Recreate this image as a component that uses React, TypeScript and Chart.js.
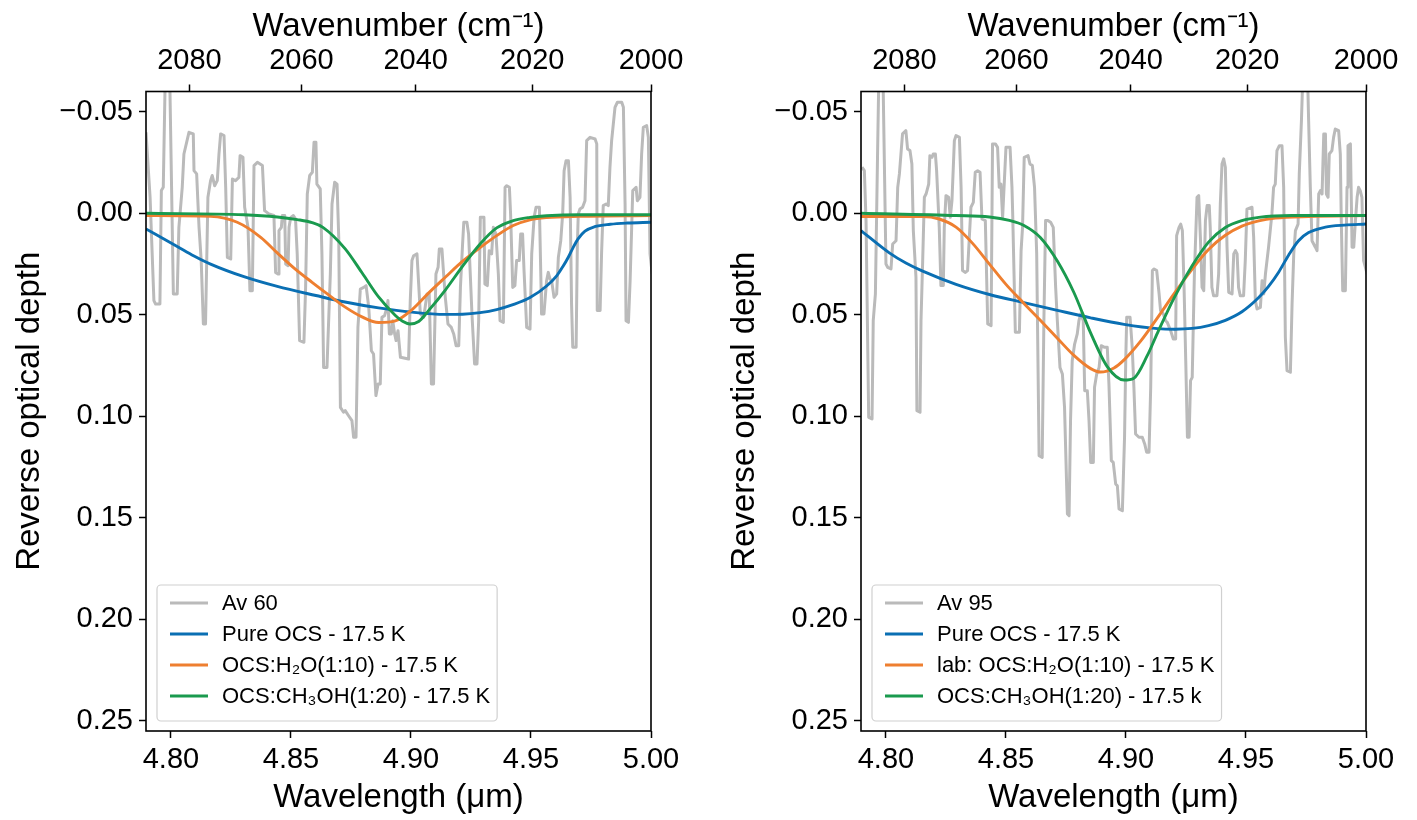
import React, { useEffect, useRef } from 'react';
import { Chart, registerables } from 'chart.js';

Chart.register(...registerables);

const FONT = "'Liberation Sans', Arial, Helvetica, sans-serif";

// ---------- axes ----------
const xMin = 4.7896;
const xMax = 5.0;
const yMin = -0.06;
const yMax = 0.255;
const wavelengthTicks = [4.8, 4.85, 4.9, 4.95, 5.0];
const wavenumberTicks = [2080, 2060, 2040, 2020, 2000];
const depthTicks = [-0.05, 0.0, 0.05, 0.1, 0.15, 0.2, 0.25];

// ---------- panel 1 (Av 60) ----------
const av60: number[][] = [
  [4.7896, -0.0399], [4.7913, -0.0079], [4.7929, 0.043], [4.7936, 0.0447], [4.7954, 0.0447], [4.796, -0.0112],
  [4.7968, -0.0128], [4.7978, -0.08], [4.7993, -0.08], [4.801, 0.0397], [4.8026, 0.0397], [4.8033, 0.0069],
  [4.8047, -0.0128], [4.8054, -0.0292], [4.8075, -0.0399], [4.8093, -0.0391], [4.8096, -0.021], [4.8107, -0.0194],
  [4.8117, 0.0069], [4.8126, 0.0233], [4.8135, 0.0545], [4.8144, 0.0545], [4.8154, -0.0079], [4.8165, -0.0161],
  [4.8172, -0.0186], [4.8182, -0.0136], [4.8193, -0.0161], [4.82, -0.0292], [4.8207, -0.0391], [4.8221, -0.0383],
  [4.8228, -0.0128], [4.8235, 0.0217], [4.8249, 0.0225], [4.8256, -0.0169], [4.8269, -0.0161], [4.8283, -0.0177],
  [4.8288, -0.0284], [4.83, -0.0276], [4.8307, -0.003], [4.8321, 0.0069], [4.8329, 0.0381], [4.8339, 0.0381],
  [4.8346, -0.0235], [4.836, -0.0251], [4.8381, -0.0235], [4.839, -0.0013], [4.8408, 0.0003], [4.8429, 0.0011],
  [4.8436, 0.0291], [4.8446, 0.0299], [4.845, 0.0085], [4.846, 0.0069], [4.8464, 0.0011], [4.8474, 0.0011],
  [4.8478, 0.025], [4.8488, 0.0258], [4.8492, 0.0069], [4.8499, 0.002], [4.851, 0.0011], [4.8519, 0.0028],
  [4.8526, 0.02], [4.8536, 0.0627], [4.8554, 0.0635], [4.8561, 0.0365], [4.8568, -0.0095], [4.8578, -0.0186],
  [4.8589, -0.0202], [4.8596, -0.035], [4.8604, -0.035], [4.8608, -0.0144], [4.8622, -0.012], [4.8629, 0.02],
  [4.8636, 0.0759], [4.865, 0.0759], [4.8664, 0.0299], [4.8671, -0.0046], [4.8682, -0.0153], [4.8692, -0.0144],
  [4.8699, 0.0118], [4.8706, 0.0956], [4.8719, 0.098], [4.8726, 0.0972], [4.874, 0.0997], [4.8754, 0.1021],
  [4.8761, 0.1103], [4.8771, 0.1103], [4.8779, 0.0562], [4.8789, 0.0373], [4.8803, 0.0365], [4.8813, 0.0356],
  [4.8824, 0.0463], [4.8835, 0.0677], [4.8844, 0.0693], [4.8854, 0.0898], [4.8863, 0.0841], [4.8872, 0.0841],
  [4.8879, 0.0512], [4.889, 0.0504], [4.89, 0.0463], [4.8904, 0.043], [4.891, 0.0594], [4.8918, 0.0594],
  [4.8924, 0.0529], [4.8932, 0.0594], [4.8938, 0.0627], [4.8946, 0.0578], [4.8951, 0.0644], [4.8956, 0.0709],
  [4.899, 0.0718], [4.8997, 0.043], [4.9004, 0.0233], [4.9011, 0.0209], [4.9025, 0.02], [4.9032, 0.0348],
  [4.9039, 0.0496], [4.9053, 0.0512], [4.9067, 0.0397], [4.9076, 0.0397], [4.9085, 0.0841], [4.9094, 0.0841],
  [4.9104, 0.0299], [4.9113, 0.0266], [4.9118, 0.0176], [4.9129, 0.0176], [4.9136, 0.0299], [4.9143, 0.0414],
  [4.9154, 0.0545], [4.9168, 0.0562], [4.9178, 0.0594], [4.9188, 0.0652], [4.9199, 0.0652], [4.9206, 0.0365],
  [4.9215, 0.0151], [4.922, 0.0044], [4.9233, 0.0044], [4.924, 0.0102], [4.9254, 0.0496], [4.9265, 0.0742],
  [4.9275, 0.0742], [4.9282, 0.0529], [4.9289, 0.002], [4.9304, 0.002], [4.9308, 0.0348], [4.9318, 0.0356],
  [4.9326, 0.0184], [4.9336, 0.02], [4.9343, 0.0069], [4.9354, 0.0102], [4.9364, 0.0299], [4.9371, 0.0529],
  [4.9385, 0.0537], [4.9392, -0.0128], [4.9399, -0.0136], [4.941, -0.0128], [4.9415, 0.0003], [4.9424, 0.0365],
  [4.9433, 0.0356], [4.944, 0.0233], [4.9451, 0.0233], [4.9457, 0.0102], [4.9465, 0.0102], [4.9471, 0.0282],
  [4.9482, 0.0562], [4.9496, 0.057], [4.9503, 0.02], [4.9513, 0.002], [4.9521, -0.003], [4.9535, -0.003],
  [4.9542, 0.0365], [4.9544, 0.0496], [4.9554, 0.0496], [4.9565, 0.0332], [4.9572, 0.0291], [4.9579, 0.0323],
  [4.9586, 0.0332], [4.9596, 0.0414], [4.9607, 0.0397], [4.9614, 0.0217], [4.9624, 0.0135], [4.9632, 0.0003],
  [4.9638, -0.021], [4.9646, -0.0259], [4.9656, -0.0259], [4.9663, -0.0079], [4.9669, 0.0447], [4.9674, 0.066],
  [4.9688, 0.066], [4.9693, 0.0167], [4.9697, 0.0003], [4.9704, -0.0021], [4.9715, -0.003], [4.9725, -0.0062],
  [4.9732, -0.0358], [4.9746, -0.0374], [4.9767, -0.0366], [4.9774, -0.0342], [4.9776, 0.0479], [4.9788, 0.0479],
  [4.9794, 0.02], [4.9801, -0.0038], [4.9813, -0.0046], [4.9822, -0.0038], [4.9829, -0.0227], [4.9836, -0.0358],
  [4.985, -0.0522], [4.986, -0.0547], [4.9878, -0.0547], [4.9885, -0.0522], [4.9892, -0.0046], [4.9896, 0.0529],
  [4.9906, 0.0537], [4.9913, 0.0332], [4.9924, -0.0112], [4.9938, -0.0128], [4.9943, -0.0062], [4.9954, -0.0079],
  [4.9961, -0.0292], [4.9968, -0.0424], [4.9982, -0.0432], [4.9989, -0.0374], [4.9996, 0.02], [5.0005, 0.03],
];

const pureOcs1: number[][] = [
  [4.7896, 0.0077], [4.8026, 0.0163], [4.8096, 0.021], [4.8165, 0.025], [4.8304, 0.0312], [4.8443, 0.036],
  [4.8604, 0.0405], [4.8725, 0.0437], [4.8865, 0.0466], [4.9004, 0.0487], [4.9142, 0.0498], [4.9215, 0.0497],
  [4.9288, 0.0489], [4.9357, 0.0474], [4.9425, 0.045], [4.9496, 0.0415], [4.9565, 0.0358], [4.9607, 0.0308],
  [4.9633, 0.0262], [4.9656, 0.0215], [4.9675, 0.017], [4.9697, 0.0125], [4.9725, 0.0088], [4.9765, 0.0066],
  [4.983, 0.0054], [4.99, 0.0048], [5.0, 0.0044],
];

const h2oMix1: number[][] = [
  [4.7896, 0.0011], [4.8165, 0.0015], [4.8276, 0.0044], [4.8374, 0.0118], [4.8443, 0.0195], [4.8513, 0.027],
  [4.8588, 0.034], [4.8657, 0.0402], [4.8726, 0.0462], [4.8796, 0.051], [4.8865, 0.0538], [4.8935, 0.053],
  [4.9004, 0.0475], [4.9074, 0.0392], [4.9143, 0.0315], [4.9213, 0.0238], [4.9296, 0.0162], [4.9357, 0.011],
  [4.9426, 0.006], [4.9496, 0.0032], [4.9565, 0.0021], [4.9704, 0.0015], [5.0, 0.0011],
];

const ch3ohMix1: number[][] = [
  [4.7896, 0.0], [4.8304, 0.0007], [4.8443, 0.0018], [4.8526, 0.0031], [4.8588, 0.0046], [4.8633, 0.0069],
  [4.8726, 0.0175], [4.8796, 0.0293], [4.8865, 0.0412], [4.8935, 0.0503], [4.8965, 0.0532], [4.8995, 0.0545],
  [4.9032, 0.0533], [4.9074, 0.0478], [4.9143, 0.0378], [4.9213, 0.0264], [4.9288, 0.0151], [4.9357, 0.0072],
  [4.9426, 0.0036], [4.9496, 0.002], [4.9565, 0.0012], [4.9704, 0.0007], [5.0, 0.0007],
];

// ---------- panel 2 (Av 95) ----------
const av95: number[][] = [
  [4.79, -0.0227], [4.791, -0.021], [4.7917, 0.0036], [4.7928, 0.1005], [4.7942, 0.1013], [4.7947, 0.0529],
  [4.7956, 0.0397], [4.7965, -0.0292], [4.7972, -0.08], [4.7986, -0.08], [4.8, 0.025], [4.8007, 0.0266],
  [4.8021, 0.0274], [4.8028, 0.0151], [4.8042, 0.0135], [4.8049, -0.0128], [4.8056, -0.0194], [4.8069, -0.0391],
  [4.8083, -0.0407], [4.809, -0.0317], [4.81, -0.0309], [4.8108, -0.0243], [4.8114, 0.0085], [4.8125, 0.0315],
  [4.8129, 0.0972], [4.8142, 0.098], [4.8146, 0.0529], [4.8153, 0.0233], [4.816, -0.0079], [4.8167, -0.0095],
  [4.8178, -0.0144], [4.8183, -0.0284], [4.8192, -0.0276], [4.8197, -0.0292], [4.8206, -0.0292], [4.8211, -0.021],
  [4.8222, 0.0069], [4.8229, 0.0356], [4.8239, 0.0356], [4.8243, 0.0069], [4.825, -0.0087], [4.8261, -0.0079],
  [4.8268, 0.002], [4.8275, -0.0062], [4.8285, -0.0358], [4.8292, -0.0383], [4.8306, -0.0374], [4.8313, -0.0128],
  [4.8319, 0.0282], [4.8331, 0.0291], [4.834, 0.0282], [4.8354, -0.003], [4.8364, -0.0054], [4.8372, -0.0202],
  [4.8382, -0.021], [4.8392, -0.0202], [4.84, 0.0028], [4.8414, 0.0036], [4.8424, 0.0545], [4.8438, 0.0553],
  [4.8444, -0.0342], [4.8456, -0.0342], [4.8465, -0.0325], [4.8472, -0.0128], [4.8479, -0.0144], [4.8486, 0.002],
  [4.85, -0.0325], [4.8517, -0.0325], [4.8525, -0.0128], [4.8528, 0.0003], [4.8539, 0.0586], [4.8556, 0.0586],
  [4.8563, 0.0184], [4.8569, 0.0069], [4.8576, -0.0276], [4.8592, -0.0284], [4.86, -0.0243], [4.861, -0.0235],
  [4.8619, -0.0128], [4.8628, 0.02], [4.8638, 0.1194], [4.8651, 0.1202], [4.8658, 0.0529], [4.8665, 0.0036],
  [4.8675, 0.0036], [4.8686, 0.0044], [4.8697, 0.0069], [4.8707, 0.0365], [4.8714, 0.0529], [4.8725, 0.0759],
  [4.8735, 0.0791], [4.8744, 0.0956], [4.8756, 0.1481], [4.8763, 0.1489], [4.8769, 0.1021], [4.8776, 0.0726],
  [4.8786, 0.0644], [4.8797, 0.0594], [4.8804, 0.0529], [4.8811, 0.0496], [4.8822, 0.0529], [4.8828, 0.0874],
  [4.8839, 0.0874], [4.8846, 0.1021], [4.8853, 0.1227], [4.8864, 0.1227], [4.8869, 0.0857], [4.8878, 0.0791],
  [4.8888, 0.0759], [4.8897, 0.0652], [4.8911, 0.066], [4.8922, 0.066], [4.8929, 0.0841], [4.8939, 0.1218],
  [4.8947, 0.1227], [4.8957, 0.1333], [4.8964, 0.1342], [4.8971, 0.1456], [4.8985, 0.1465], [4.8994, 0.1103],
  [4.8999, 0.0726], [4.9003, 0.0512], [4.9017, 0.0512], [4.9026, 0.066], [4.9033, 0.0857], [4.904, 0.1087],
  [4.9054, 0.1103], [4.9068, 0.1103], [4.9078, 0.1136], [4.9086, 0.1177], [4.9096, 0.1177], [4.9103, 0.0857],
  [4.911, 0.0282], [4.9117, 0.0274], [4.9128, 0.0282], [4.9138, 0.0397], [4.9144, 0.0479], [4.9156, 0.0496],
  [4.9165, 0.0529], [4.9172, 0.0537], [4.9186, 0.0578], [4.9197, 0.0619], [4.9207, 0.0619], [4.9211, 0.011],
  [4.9221, 0.0069], [4.9228, 0.0053], [4.9235, 0.0085], [4.9242, 0.0365], [4.9249, 0.0726], [4.9256, 0.1103],
  [4.9263, 0.1103], [4.9269, 0.0824], [4.9276, 0.0808], [4.9285, 0.03], [4.9296, -0.0079], [4.9303, -0.0087],
  [4.931, 0.0118], [4.9317, 0.0365], [4.9324, 0.0381], [4.9331, 0.0036], [4.9338, -0.0038], [4.9347, -0.0038],
  [4.9351, 0.0069], [4.9358, 0.0365], [4.9365, 0.0406], [4.9379, 0.0406], [4.9386, 0.0299], [4.9393, -0.0046],
  [4.94, -0.0243], [4.9407, -0.0268], [4.9414, -0.0227], [4.9421, 0.0167], [4.9428, 0.0389], [4.9442, 0.0397],
  [4.9449, 0.02], [4.9456, 0.0184], [4.9463, 0.02], [4.9469, 0.0365], [4.9476, 0.0406], [4.949, 0.0406],
  [4.9497, 0.0233], [4.9504, -0.0021], [4.9525, -0.003], [4.9532, 0.0118], [4.9539, 0.043], [4.9546, 0.0471],
  [4.956, 0.0463], [4.9567, 0.0332], [4.9574, 0.0397], [4.9581, 0.0299], [4.9594, 0.0167], [4.9608, 0.0003],
  [4.9615, -0.0128], [4.9622, -0.0144], [4.9629, -0.0309], [4.9639, -0.0333], [4.965, -0.0333], [4.9657, -0.0128],
  [4.9664, 0.0611], [4.9671, 0.0775], [4.9685, 0.0783], [4.9692, 0.0447], [4.9699, 0.02], [4.9706, 0.0085],
  [4.9717, 0.0053], [4.9722, -0.0194], [4.9731, -0.0456], [4.974, -0.08], [4.9754, -0.08], [4.9761, -0.0456],
  [4.9768, -0.0128], [4.9775, 0.0135], [4.9789, 0.0167], [4.9796, 0.0184], [4.9803, -0.0095], [4.981, -0.0112],
  [4.9817, -0.0095], [4.9824, -0.0391], [4.9831, -0.0391], [4.9835, -0.0095], [4.9842, -0.0079], [4.9847, -0.0292],
  [4.9858, -0.0309], [4.9865, -0.0374], [4.9872, -0.0415], [4.9886, -0.0407], [4.9893, -0.0292], [4.9897, 0.0036],
  [4.9903, 0.0381], [4.9914, 0.0381], [4.9921, -0.0128], [4.9925, -0.0333], [4.9935, -0.0342], [4.9942, 0.0167],
  [4.9949, 0.0167], [4.9956, 0.0036], [4.9963, -0.0079], [4.9969, -0.0128], [4.9976, -0.0112], [4.9983, -0.0079],
  [4.999, 0.0233], [5.0005, 0.03],
];

const pureOcs2: number[][] = [
  [4.7896, 0.0085], [4.8014, 0.0195], [4.8083, 0.0245], [4.8153, 0.0285], [4.8292, 0.035], [4.8431, 0.04],
  [4.8575, 0.044], [4.8714, 0.0478], [4.8853, 0.0515], [4.8992, 0.0547], [4.9131, 0.0568], [4.9203, 0.0571],
  [4.9275, 0.0567], [4.9344, 0.0553], [4.9414, 0.0527], [4.9483, 0.0485], [4.9553, 0.0415], [4.9594, 0.036],
  [4.9636, 0.029], [4.9678, 0.0205], [4.9719, 0.0135], [4.9761, 0.0095], [4.9831, 0.0068], [4.991, 0.0058],
  [5.0, 0.0053],
];

const h2oMix2: number[][] = [
  [4.7896, 0.0016], [4.8153, 0.0016], [4.8222, 0.0028], [4.8292, 0.0068], [4.8361, 0.0148], [4.8431, 0.025],
  [4.85, 0.035], [4.8575, 0.0444], [4.8644, 0.0528], [4.8714, 0.0615], [4.8783, 0.07], [4.8853, 0.0765],
  [4.8894, 0.0782], [4.895, 0.0762], [4.8992, 0.0722], [4.9061, 0.063], [4.9131, 0.0515], [4.92, 0.0397],
  [4.9275, 0.0276], [4.9344, 0.0178], [4.9414, 0.0108], [4.9483, 0.0063], [4.9553, 0.0037], [4.9622, 0.0024],
  [4.9761, 0.0016], [5.0, 0.0011],
];

const ch3ohMix2: number[][] = [
  [4.7896, 0.0], [4.8292, 0.0011], [4.8431, 0.0018], [4.8514, 0.0035], [4.8575, 0.006], [4.8644, 0.012],
  [4.8714, 0.0235], [4.8783, 0.039], [4.8853, 0.059], [4.8922, 0.0755], [4.8992, 0.0821], [4.9033, 0.0812],
  [4.9089, 0.07], [4.9131, 0.059], [4.92, 0.0418], [4.9275, 0.026], [4.9344, 0.0142], [4.9414, 0.007],
  [4.9483, 0.0036], [4.9553, 0.002], [4.9692, 0.0011], [5.0, 0.0011],
];

const panel1Labels = ['Av 60', 'Pure OCS - 17.5 K', 'OCS:H\u2082O(1:10) - 17.5 K', 'OCS:CH\u2083OH(1:20) - 17.5 K'];
const panel2Labels = ['Av 95', 'Pure OCS - 17.5 K', 'lab: OCS:H\u2082O(1:10) - 17.5 K', 'OCS:CH\u2083OH(1:20) - 17.5 k'];

const COLORS = ['#bababa', '#0a6fb3', '#ee7f30', '#1a9a4e'];

const framePlugin = {
  id: 'frame',
  afterDatasetsDraw(chart: any) {
    const { ctx, chartArea: a } = chart;
    ctx.save();
    ctx.strokeStyle = '#000';
    ctx.lineWidth = 1.6;
    ctx.strokeRect(a.left, a.top, a.right - a.left, a.bottom - a.top);
    ctx.restore();
  },
};

const boxLegendPlugin = {
  id: 'boxLegend',
  afterDraw(chart: any) {
    const { ctx, chartArea: a } = chart;
    const items = chart.data.datasets;
    ctx.save();
    ctx.font = `22px ${FONT}`;
    const textW = Math.max(...items.map((d: any) => ctx.measureText(d.label).width));
    const rowH = 31;
    const left = a.left + 11;
    const bottom = a.bottom - 10;
    const h = 136;
    const top = bottom - h;
    const w = 65 + textW + 7;
    ctx.beginPath();
    (ctx as any).roundRect(left, top, w, h, 4);
    ctx.fillStyle = 'rgba(255,255,255,0.85)';
    ctx.fill();
    ctx.strokeStyle = '#d0d0d0';
    ctx.lineWidth = 1.2;
    ctx.stroke();
    items.forEach((d: any, i: number) => {
      const y = top + 18 + i * rowH;
      ctx.beginPath();
      ctx.moveTo(left + 13, y);
      ctx.lineTo(left + 51, y);
      ctx.strokeStyle = d.borderColor;
      ctx.lineWidth = 2.8;
      ctx.stroke();
      ctx.fillStyle = '#000';
      ctx.textBaseline = 'middle';
      ctx.textAlign = 'left';
      ctx.fillText(d.label, left + 65, y + 1);
    });
    ctx.restore();
  },
};

function fmtDepth(v: number) {
  const s = Math.abs(v).toFixed(2);
  return v < -1e-9 ? '\u2212' + s : s;
}

function buildConfig(series: number[][][], labels: string[], rightPad: number): any {
  const tickFont = { family: FONT, size: 29 };
  const titleFont = { family: FONT, size: 33 };
  const gridOpts = { display: true, drawOnChartArea: false, drawTicks: true, tickLength: 7, tickWidth: 1.5, color: '#000' };
  return {
    type: 'line',
    data: {
      datasets: series.map((pts, i) => ({
        label: labels[i],
        data: pts.map(([x, y]) => ({ x, y })),
        borderColor: COLORS[i],
        backgroundColor: COLORS[i],
        borderWidth: i === 0 ? 3 : 2.9,
        pointRadius: 0,
        fill: false,
        tension: i === 0 ? 0 : 0.4,
        cubicInterpolationMode: i === 0 ? 'default' : 'monotone',
        borderJoinStyle: 'round',
        order: 4 - i,
      })),
    },
    options: {
      responsive: false,
      animation: false,
      parsing: true,
      layout: { padding: { left: 0, top: 0, right: rightPad, bottom: 0 } },
      plugins: { legend: { display: false }, tooltip: { enabled: false } },
      scales: {
        x: {
          type: 'linear',
          position: 'bottom',
          min: xMin,
          max: xMax,
          grid: gridOpts,
          border: { display: false },
          afterBuildTicks: (s: any) => { s.ticks = wavelengthTicks.map((v) => ({ value: v })); },
          afterFit: (s: any) => { s.height = 89; },
          ticks: { autoSkip: false, maxRotation: 0, padding: 5, color: '#000', font: tickFont, callback: (v: number) => Number(v).toFixed(2) },
          title: { display: true, text: 'Wavelength (\u03bcm)', color: '#000', font: titleFont, padding: { top: 0, bottom: 2 } },
        },
        x2: {
          type: 'linear',
          position: 'top',
          min: xMin,
          max: xMax,
          grid: gridOpts,
          border: { display: false },
          afterBuildTicks: (s: any) => { s.ticks = wavenumberTicks.map((w) => ({ value: 10000 / w })); },
          afterFit: (s: any) => { s.height = 91.5; },
          ticks: { autoSkip: false, maxRotation: 0, padding: 6, color: '#000', font: tickFont, callback: (v: number) => String(Math.round(10000 / Number(v))) },
          title: { display: true, text: 'Wavenumber (cm\u207b\u00b9)', color: '#000', font: titleFont, padding: { top: 7, bottom: 0 } },
        },
        y: {
          type: 'linear',
          position: 'left',
          reverse: true,
          min: yMin,
          max: yMax,
          grid: gridOpts,
          border: { display: false },
          afterBuildTicks: (s: any) => { s.ticks = depthTicks.map((v) => ({ value: v })); },
          afterFit: (s: any) => { s.width = 146; },
          ticks: { padding: 6, color: '#000', font: tickFont, callback: (v: number) => fmtDepth(Number(v)) },
          title: { display: true, text: 'Reverse optical depth', color: '#000', font: titleFont, padding: { top: 10, bottom: 0 } },
        },
      },
    },
    plugins: [framePlugin, boxLegendPlugin],
  };
}

function Panel(props: { left: number; width: number; rightPad: number; series: number[][][]; labels: string[] }) {
  const ref = useRef<HTMLCanvasElement | null>(null);
  useEffect(() => {
    if (!ref.current) return;
    const chart = new Chart(ref.current, buildConfig(props.series, props.labels, props.rightPad));
    return () => chart.destroy();
  }, []);
  return (
    <canvas
      ref={ref}
      width={props.width}
      height={820}
      style={{ position: 'absolute', left: props.left, top: 0, width: props.width, height: 820 }}
    />
  );
}

export default function App() {
  return (
    <div style={{ position: 'absolute', left: 0, top: 0, width: 1417, height: 820, background: '#fff' }}>
      <Panel left={0} width={708} rightPad={57} series={[av60, pureOcs1, h2oMix1, ch3ohMix1]} labels={panel1Labels} />
      <Panel left={715} width={702} rightPad={51} series={[av95, pureOcs2, h2oMix2, ch3ohMix2]} labels={panel2Labels} />
    </div>
  );
}
